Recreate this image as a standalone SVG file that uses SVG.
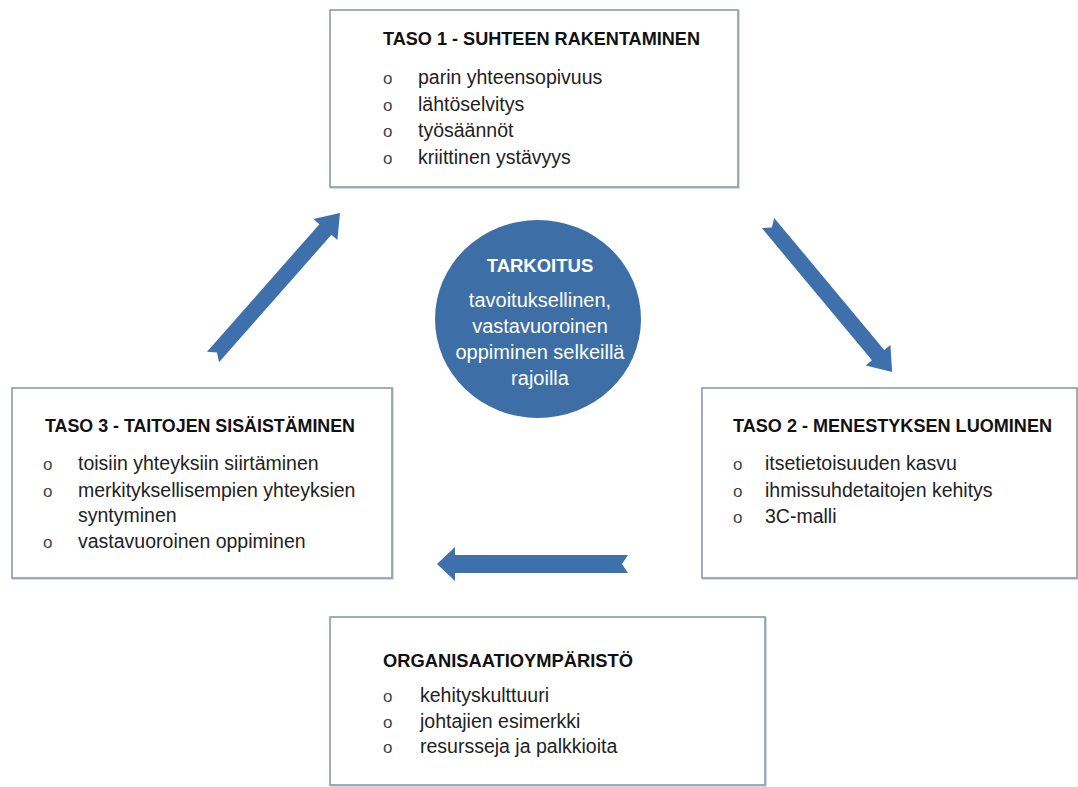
<svg xmlns="http://www.w3.org/2000/svg" width="1078" height="787" viewBox="0 0 1078 787">
<style>
.box{fill:#ffffff;stroke:#8a98ad;stroke-width:1.6}
.shadow{fill:none;stroke:#d5dbe4;stroke-width:2}
.title{font-family:"Liberation Sans",Arial,sans-serif;font-weight:bold;font-size:18.5px;fill:#111111}
.item{font-family:"Liberation Sans",Arial,sans-serif;font-size:19.5px;fill:#222222}
.bul{font-family:"Liberation Sans",Arial,sans-serif;font-size:17px;fill:#444444}
.arrow{fill:#3e70ab}
.ctitle{font-family:"Liberation Sans",Arial,sans-serif;font-weight:bold;font-size:18.5px;fill:#ffffff;text-anchor:middle}
.ctext{font-family:"Liberation Sans",Arial,sans-serif;font-size:20px;fill:#ffffff;text-anchor:middle}
</style>
<rect width="1078" height="787" fill="#ffffff"/>
<g id="connectors">
<path class="arrow" d="M0,-8 L170,-8 L170,-16 L192,0 L170,16 L170,8 L0,8 L6,0 Z" transform="translate(213,357) rotate(-48.6)"/>
<path class="arrow" d="M0,-8 L172,-8 L172,-16 L194,0 L172,16 L172,8 L0,8 L6,0 Z" transform="translate(768,223) rotate(50.2)"/>
<path class="arrow" d="M0,-9 L173,-9 L173,-17 L191,0 L173,17 L173,9 L0,9 L6,0 Z" transform="translate(628,564) rotate(180)"/>
</g>
<g id="taso1">
<rect class="shadow" x="331" y="11" width="408" height="177"/>
<rect class="box" x="330" y="10" width="408" height="177"/>
<text class="title" x="383" y="45" textLength="317" lengthAdjust="spacingAndGlyphs">TASO 1 - SUHTEEN RAKENTAMINEN</text>
<text class="bul" x="383" y="84">o</text><text class="item" x="418" y="84">parin yhteensopivuus</text>
<text class="bul" x="383" y="111">o</text><text class="item" x="418" y="111">lähtöselvitys</text>
<text class="bul" x="383" y="137">o</text><text class="item" x="418" y="137">työsäännöt</text>
<text class="bul" x="383" y="164">o</text><text class="item" x="418" y="164">kriittinen ystävyys</text>
</g>
<g id="taso3">
<rect class="shadow" x="13" y="389" width="380" height="190"/>
<rect class="box" x="12" y="388" width="380" height="190"/>
<text class="title" x="45" y="432" textLength="310" lengthAdjust="spacingAndGlyphs">TASO 3 - TAITOJEN SISÄISTÄMINEN</text>
<text class="bul" x="43" y="470">o</text><text class="item" x="78" y="470">toisiin yhteyksiin siirtäminen</text>
<text class="bul" x="43" y="497">o</text><text class="item" x="78" y="497">merkityksellisempien yhteyksien</text>
<text class="item" x="78" y="522">syntyminen</text>
<text class="bul" x="43" y="548">o</text><text class="item" x="78" y="548">vastavuoroinen oppiminen</text>
</g>
<g id="taso2">
<rect class="shadow" x="703" y="389" width="376" height="190"/>
<rect class="box" x="702" y="388" width="375" height="190"/>
<text class="title" x="733" y="432" textLength="319" lengthAdjust="spacingAndGlyphs">TASO 2 - MENESTYKSEN LUOMINEN</text>
<text class="bul" x="733" y="470">o</text><text class="item" x="765" y="470">itsetietoisuuden kasvu</text>
<text class="bul" x="733" y="497">o</text><text class="item" x="765" y="497">ihmissuhdetaitojen kehitys</text>
<text class="bul" x="733" y="523">o</text><text class="item" x="765" y="523">3C-malli</text>
</g>
<g id="organisaatio">
<rect class="shadow" x="331" y="618" width="435" height="168"/>
<rect class="box" x="330" y="617" width="435" height="168"/>
<text class="title" x="383" y="667" textLength="250" lengthAdjust="spacingAndGlyphs">ORGANISAATIOYMPÄRISTÖ</text>
<text class="bul" x="383" y="702">o</text><text class="item" x="420" y="702">kehityskulttuuri</text>
<text class="bul" x="383" y="728">o</text><text class="item" x="420" y="728">johtajien esimerkki</text>
<text class="bul" x="383" y="753">o</text><text class="item" x="420" y="753">resursseja ja palkkioita</text>
</g>
<g id="tarkoitus">
<ellipse cx="538" cy="319" rx="103" ry="99" fill="#3d6ea5"/>
<text class="ctitle" x="540" y="272">TARKOITUS</text>
<text class="ctext" x="540" y="307">tavoituksellinen,</text>
<text class="ctext" x="540" y="333">vastavuoroinen</text>
<text class="ctext" x="540" y="359">oppiminen selkeillä</text>
<text class="ctext" x="540" y="385">rajoilla</text>
</g>
</svg>
